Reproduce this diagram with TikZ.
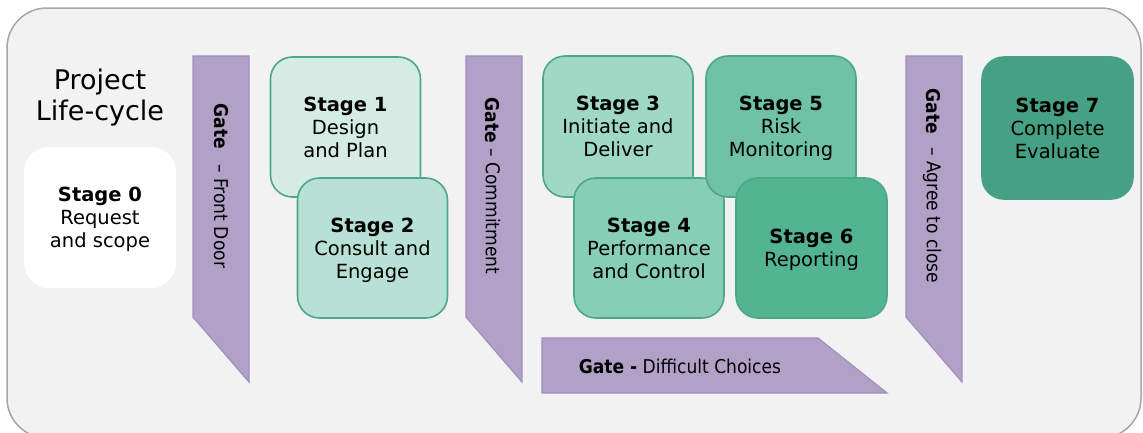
\documentclass[tikz,border=0pt]{standalone}
\usepackage{fontspec}
\setmainfont{DejaVu Sans}
\newfontfamily\condfont{DejaVu Sans Condensed}
\newcommand\tallstrut{\rule{0pt}{21pt}}
\definecolor{panelfill}{HTML}{F2F2F2}
\definecolor{panelline}{HTML}{A6A6A6}
\definecolor{gatefill}{HTML}{B2A1C7}
\definecolor{gateline}{HTML}{A28CC0}
\definecolor{stageline}{HTML}{4BA785}
\definecolor{sone}{HTML}{D4ECE3}
\definecolor{stwo}{HTML}{B6E1D4}
\definecolor{sthree}{HTML}{9FD8C5}
\definecolor{sfour}{HTML}{87CEB6}
\definecolor{sfive}{HTML}{6FC2A6}
\definecolor{ssix}{HTML}{53B492}
\definecolor{sseven}{HTML}{46A083}
\begin{document}
\begin{tikzpicture}[x=1pt,y=-1pt,
  stagebox/.style={draw=stageline, line width=1.6pt, rounded corners=22pt,
    minimum width=150pt, minimum height=140pt, align=center, inner sep=0pt,
    font=\fontsize{19.5}{23}\selectfont},
  gateshape/.style={draw=gateline, fill=gatefill, line width=1.2pt},
  gatefont/.style={font=\condfont\fontsize{19}{22}\selectfont, inner sep=0pt},
  gatetext/.style={gatefont, rotate=-90},
  titletext/.style={align=center, font=\fontsize{27}{31}\selectfont}]

\useasboundingbox (0,0) rectangle (1143,432);
\clip (0,0) rectangle (1143,432);

% background panel
\draw[fill=panelfill, draw=panelline, line width=1.5pt, rounded corners=40pt]
  (7,8) rectangle (1141,438);

% title
\node[titletext] (title) at (100,97.5) {Project\\Life-cycle};

% stage 0
\node[stagebox, draw=none, fill=white, rounded corners=25pt,
  minimum width=152pt, minimum height=141pt] (s0) at (100,217.5)
  {\tallstrut\textbf{Stage 0}\\Request\\and scope\strut};

% gate: front door
\draw[gateshape] (193,56) -- (249,56) -- (249,382) -- (193,317) -- cycle;
\node[gatetext] (gfront) at (221,186) {\textbf{Gate}\hspace{0.8em}– Front Door};

% stages 1 and 2
\node[stagebox, fill=sone] (s1) at (345.5,127)
  {\tallstrut\textbf{Stage 1}\\Design\\and Plan\strut};
\node[stagebox, fill=stwo] (s2) at (372.5,248)
  {\tallstrut\textbf{Stage 2}\\Consult and\\Engage\strut};

% gate: commitment
\draw[gateshape] (466,56) -- (522,56) -- (522,382) -- (466,317) -- cycle;
\node[gatetext] (gcommit) at (493,186) {\textbf{Gate} – Commitment};

% stages 3 to 6
\node[stagebox, fill=sthree, minimum height=141pt] (s3) at (618,126.5)
  {\tallstrut\textbf{Stage 3}\\Initiate and\\Deliver\strut};
\node[stagebox, fill=sfour] (s4) at (649,248)
  {\tallstrut\textbf{Stage 4}\\Performance\\and Control\strut};
\node[stagebox, fill=sfive, minimum height=141pt] (s5) at (781,126.5)
  {\tallstrut\textbf{Stage 5}\\Risk\\Monitoring\strut};
\node[stagebox, fill=ssix, minimum width=151pt] (s6) at (811.5,248)
  {\tallstrut\textbf{Stage 6}\\Reporting\strut};

% gate: difficult choices
\draw[gateshape] (542,338) -- (818,338) -- (887,393) -- (542,393) -- cycle;
\node[gatefont] (gchoice) at (680,366) {\textbf{Gate -} Difficult Choices};

% gate: agree to close
\draw[gateshape] (906,56) -- (962,56) -- (962,382) -- (906,317) -- cycle;
\node[gatetext] (gclose) at (932,186) {\textbf{Gate}\hspace{0.7em}– Agree to close};

% stage 7
\node[stagebox, draw=sseven, fill=sseven, minimum width=151pt, minimum height=142pt]
  (s7) at (1057.5,128) {\tallstrut\textbf{Stage 7}\\Complete\\Evaluate\strut};
\end{tikzpicture}
\end{document}
